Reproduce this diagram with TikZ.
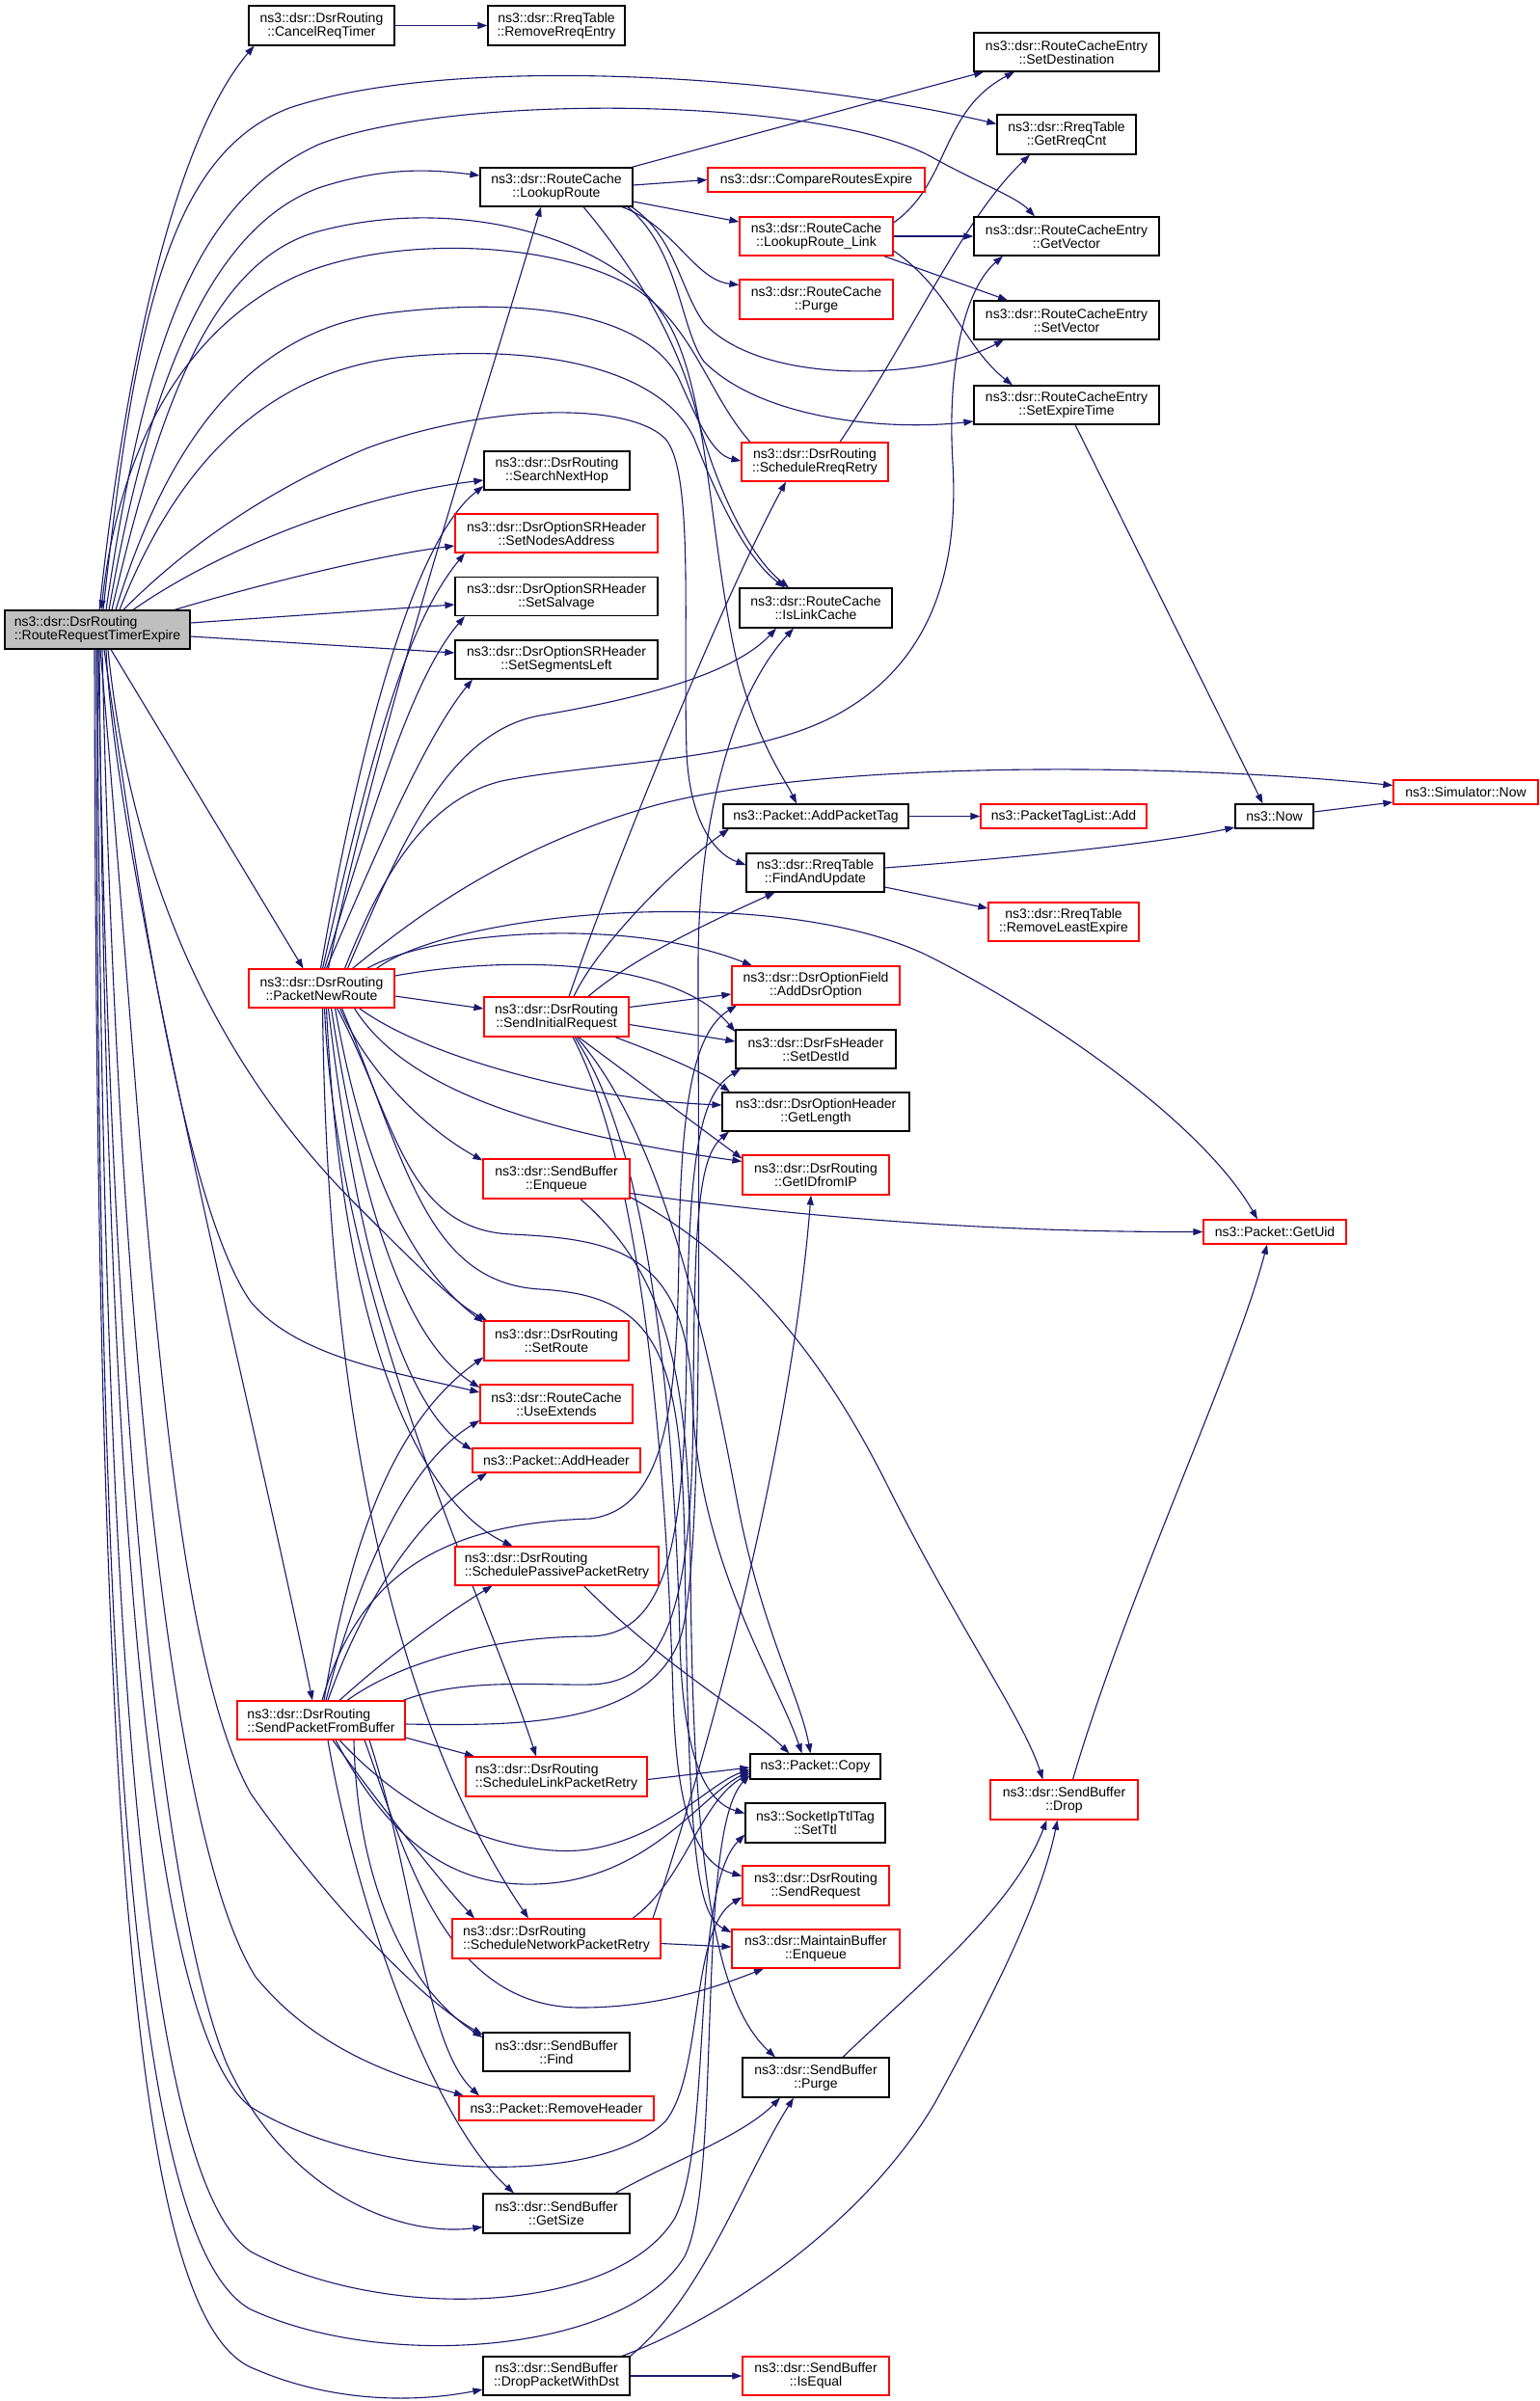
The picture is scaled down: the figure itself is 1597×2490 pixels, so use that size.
\documentclass[tikz,border=0pt]{standalone}
\usepackage{fontspec}
\setmainfont{Liberation Sans}
\usetikzlibrary{arrows.meta}
\pgfdeclarelayer{bg}
\pgfsetlayers{bg,main}
\definecolor{edgec}{HTML}{191970}
\definecolor{rootfill}{HTML}{BFBFBF}
\definecolor{redb}{HTML}{FF0000}
\tikzset{
  nb/.style={draw=black, fill=white, line width=1.2bp, inner sep=0pt, align=center, text=black,
             font=\fontsize{14bp}{14bp}\selectfont},
  nr/.style={nb, draw=redb},
  ar/.style={draw=edgec, line width=1.1bp, -{Triangle[length=10bp,width=7bp]}},
}
\begin{document}
\begin{tikzpicture}[x=1bp,y=-1bp]
\useasboundingbox (0,0) rectangle (1597,2490);
% ---------------- nodes ----------------
\node[nb,fill=rootfill,align=left,minimum width=192bp,minimum height=40bp] (root) at (101,653) {ns3::dsr::DsrRouting\\::RouteRequestTimerExpire};
\node[nb,minimum width=151bp,minimum height=41bp] (cancel) at (333.5,26.5) {ns3::dsr::DsrRouting\\::CancelReqTimer};
\node[nb,minimum width=142bp,minimum height=41bp] (rmrreq) at (577,26.5) {ns3::dsr::RreqTable\\::RemoveRreqEntry};
\node[nb,minimum width=192bp,minimum height=40bp] (setdest) at (1106,54) {ns3::dsr::RouteCacheEntry\\::SetDestination};
\node[nb,minimum width=144bp,minimum height=41bp] (getrreqcnt) at (1106,139.5) {ns3::dsr::RreqTable\\::GetRreqCnt};
\node[nb,minimum width=158bp,minimum height=40bp] (lookup) at (577,194) {ns3::dsr::RouteCache\\::LookupRoute};
\node[nr,minimum width=225bp,minimum height=25bp] (compare) at (846.5,186.5) {ns3::dsr::CompareRoutesExpire};
\node[nr,minimum width=159bp,minimum height=40bp] (lookuplink) at (846.5,245) {ns3::dsr::RouteCache\\::LookupRoute\_Link};
\node[nb,minimum width=192bp,minimum height=40bp] (getvector) at (1106,245) {ns3::dsr::RouteCacheEntry\\::GetVector};
\node[nr,minimum width=159bp,minimum height=41bp] (rcpurge) at (846.5,310.5) {ns3::dsr::RouteCache\\::Purge};
\node[nb,minimum width=192bp,minimum height=40bp] (setvector) at (1106,332) {ns3::dsr::RouteCacheEntry\\::SetVector};
\node[nb,minimum width=192bp,minimum height=40bp] (setexpire) at (1106,420) {ns3::dsr::RouteCacheEntry\\::SetExpireTime};
\node[nr,minimum width=152bp,minimum height=40bp] (srr) at (845,479) {ns3::dsr::DsrRouting\\::ScheduleRreqRetry};
\node[nb,minimum width=151bp,minimum height=40bp] (searchnext) at (577.5,488) {ns3::dsr::DsrRouting\\::SearchNextHop};
\node[nr,minimum width=210bp,minimum height=40bp] (setnodes) at (577,553) {ns3::dsr::DsrOptionSRHeader\\::SetNodesAddress};
\node[nb,minimum width=210bp,minimum height=40bp] (setsalvage) at (577,618.5) {ns3::dsr::DsrOptionSRHeader\\::SetSalvage};
\node[nb,minimum width=210bp,minimum height=40bp] (setseg) at (577,684) {ns3::dsr::DsrOptionSRHeader\\::SetSegmentsLeft};
\node[nb,minimum width=158bp,minimum height=41bp] (islink) at (846,630.5) {ns3::dsr::RouteCache\\::IsLinkCache};
\node[nb,minimum width=192bp,minimum height=25bp] (addtag) at (846,846.5) {ns3::Packet::AddPacketTag};
\node[nr,minimum width=172bp,minimum height=25bp] (taglist) at (1103,846.5) {ns3::PacketTagList::Add};
\node[nb,minimum width=81bp,minimum height=25bp] (now) at (1321.5,846.5) {ns3::Now};
\node[nr,minimum width=150bp,minimum height=25bp] (simnow) at (1520,821.5) {ns3::Simulator::Now};
\node[nb,minimum width=143bp,minimum height=40bp] (findupd) at (845.5,905) {ns3::dsr::RreqTable\\::FindAndUpdate};
\node[nr,minimum width=156bp,minimum height=40bp] (rmleast) at (1103,956) {ns3::dsr::RreqTable\\::RemoveLeastExpire};
\node[nr,minimum width=151bp,minimum height=40bp] (pnr) at (333.5,1025) {ns3::dsr::DsrRouting\\::PacketNewRoute};
\node[nr,minimum width=174bp,minimum height=40bp] (adddsr) at (846,1022) {ns3::dsr::DsrOptionField\\::AddDsrOption};
\node[nr,minimum width=150bp,minimum height=41bp] (sir) at (577,1054.5) {ns3::dsr::DsrRouting\\::SendInitialRequest};
\node[nb,minimum width=166bp,minimum height=40bp] (setdestid) at (846,1088) {ns3::dsr::DsrFsHeader\\::SetDestId};
\node[nb,minimum width=194bp,minimum height=40bp] (getlen) at (846,1153) {ns3::dsr::DsrOptionHeader\\::GetLength};
\node[nr,minimum width=152bp,minimum height=41bp] (getid) at (846,1218.5) {ns3::dsr::DsrRouting\\::GetIDfromIP};
\node[nr,minimum width=152bp,minimum height=41bp] (sbenq) at (577,1222.5) {ns3::dsr::SendBuffer\\::Enqueue};
\node[nr,minimum width=148bp,minimum height=25bp] (getuid) at (1322,1277.5) {ns3::Packet::GetUid};
\node[nr,minimum width=150bp,minimum height=41bp] (setroute) at (577,1390.5) {ns3::dsr::DsrRouting\\::SetRoute};
\node[nr,minimum width=158bp,minimum height=40bp] (useext) at (577,1456) {ns3::dsr::RouteCache\\::UseExtends};
\node[nr,minimum width=174bp,minimum height=25bp] (addhdr) at (577,1514.5) {ns3::Packet::AddHeader};
\node[nr,align=left,minimum width=211bp,minimum height=40bp] (passive) at (577.5,1624) {ns3::dsr::DsrRouting\\::SchedulePassivePacketRetry};
\node[nr,align=left,minimum width=174bp,minimum height=40bp] (spfb) at (333,1784) {ns3::dsr::DsrRouting\\::SendPacketFromBuffer};
\node[nr,align=left,minimum width=188bp,minimum height=41bp] (linkretry) at (577,1842.5) {ns3::dsr::DsrRouting\\::ScheduleLinkPacketRetry};
\node[nb,minimum width=135bp,minimum height=26bp] (copy) at (845.5,1832) {ns3::Packet::Copy};
\node[nr,minimum width=153bp,minimum height=41bp] (drop) at (1103.5,1866.5) {ns3::dsr::SendBuffer\\::Drop};
\node[nb,minimum width=145bp,minimum height=41bp] (setttl) at (845.5,1890.5) {ns3::SocketIpTtlTag\\::SetTtl};
\node[nr,minimum width=152bp,minimum height=41bp] (sendreq) at (846,1955.5) {ns3::dsr::DsrRouting\\::SendRequest};
\node[nr,align=left,minimum width=216bp,minimum height=41bp] (netretry) at (577,2010.5) {ns3::dsr::DsrRouting\\::ScheduleNetworkPacketRetry};
\node[nr,minimum width=174bp,minimum height=40bp] (mbenq) at (846,2021) {ns3::dsr::MaintainBuffer\\::Enqueue};
\node[nb,minimum width=152bp,minimum height=40bp] (find) at (577,2128) {ns3::dsr::SendBuffer\\::Find};
\node[nb,minimum width=152bp,minimum height=41bp] (sbpurge) at (846,2154.5) {ns3::dsr::SendBuffer\\::Purge};
\node[nr,minimum width=202bp,minimum height=25bp] (rmhdr) at (577,2186.5) {ns3::Packet::RemoveHeader};
\node[nb,minimum width=152bp,minimum height=41bp] (getsize) at (577,2295.5) {ns3::dsr::SendBuffer\\::GetSize};
\node[nb,minimum width=152bp,minimum height=40bp] (dropdst) at (577,2464) {ns3::dsr::SendBuffer\\::DropPacketWithDst};
\node[nr,minimum width=152bp,minimum height=40bp] (isequal) at (846,2464) {ns3::dsr::SendBuffer\\::IsEqual};
% ---------------- edges ----------------
\begin{pgfonlayer}{bg}
\fill[white] (0,0) rectangle (1597,2490);
% root, upward
\draw[ar] ([xshift=2bp]root.north) .. controls (132,360) and (185,140) .. ([xshift=-70bp]cancel.south);
\draw[ar] ([xshift=6bp]root.north) .. controls (140,330) and (175,160) .. (300,112) .. controls (470,55) and (820,78) .. ([yshift=11bp]getrreqcnt.west);
\draw[ar] ([xshift=9bp]root.north) .. controls (150,360) and (200,210) .. (330,150) .. controls (470,95) and (860,100) .. (970,165) .. controls (1020,192) and (1055,205) .. ([xshift=-33bp]getvector.north);
\draw[ar] ([xshift=12bp]root.north) .. controls (150,420) and (210,240) .. (330,195) .. controls (400,172) and (450,176) .. ([yshift=12bp]lookup.west);
\draw[ar] ([xshift=15bp]root.north) .. controls (165,420) and (220,270) .. (330,240) .. controls (480,200) and (640,250) .. (690,330) .. controls (735,400) and (735,560) .. (765,690) .. controls (785,770) and (815,810) .. ([xshift=-20bp]addtag.north);
\draw[ar] ([xshift=-67bp]srr.north) .. controls (735,410) and (720,340) .. (660,300) .. controls (570,245) and (390,245) .. (300,290) .. controls (200,340) and (125,450) .. ([xshift=4bp]root.north);
\draw[ar] ([xshift=19bp]root.north) .. controls (170,470) and (250,345) .. (400,325) .. controls (560,305) and (675,330) .. (705,395) .. controls (725,440) and (740,472) .. ([yshift=1bp]srr.west);
\draw[ar] ([xshift=23bp]root.north) .. controls (180,490) and (270,385) .. (420,370) .. controls (580,355) and (690,390) .. (720,455) .. controls (745,520) and (775,580) .. ([xshift=-32bp]islink.north);
\draw[ar] ([xshift=27bp]root.north) .. controls (170,590) and (250,520) .. (380,465) .. controls (500,420) and (650,415) .. (690,455) .. controls (720,490) and (708,650) .. (712,780) .. controls (715,850) and (740,885) .. ([yshift=8bp]findupd.west);
\draw[ar] ([xshift=37bp]root.north) .. controls (220,575) and (360,515) .. ([yshift=-10bp]searchnext.west);
\draw[ar] ([xshift=80bp]root.north) .. controls (290,600) and (400,575) .. ([yshift=-13bp]setnodes.west);
\draw[ar] ([yshift=7bp]root.east) -- ([yshift=-8.5bp]setsalvage.west);
\draw[ar] ([yshift=-7bp]root.east) -- ([yshift=7bp]setseg.west);
\draw[ar] ([xshift=14bp]root.south) -- ([xshift=-19bp]pnr.north);
% root, downward
\draw[ar] ([xshift=9bp]root.south) .. controls (120,900) and (260,1450) .. ([xshift=-9bp]spfb.north);
\draw[ar] ([xshift=11bp]root.south) .. controls (140,950) and (250,1130) .. (370,1250) .. controls (430,1310) and (470,1350) .. ([xshift=-72bp]setroute.north);
\draw[ar] ([xshift=7bp]root.south) .. controls (140,900) and (190,1250) .. (260,1350) .. controls (310,1410) and (420,1425) .. ([yshift=12bp]useext.west);
\draw[ar] ([xshift=5bp]root.south) .. controls (120,1300) and (170,1900) .. (265,2050) .. controls (330,2130) and (420,2155) .. ([xshift=-96bp]rmhdr.north);
\draw[ar] ([xshift=3bp]root.south) .. controls (150,1200) and (170,1700) .. (260,1860) .. controls (330,1960) and (430,2070) .. ([yshift=18bp]find.west);
\draw[ar] ([xshift=1bp]root.south) .. controls (115,1500) and (170,1980) .. (235,2140) .. controls (300,2280) and (420,2320) .. ([yshift=-14bp]getsize.west);
\draw[ar] ([xshift=2bp]root.south) .. controls (110,1600) and (160,2110) .. (260,2185) .. controls (380,2260) and (620,2270) .. (690,2200) .. controls (730,2150) and (715,2000) .. ([yshift=-12bp]sendreq.west);
\draw[ar] ([xshift=0bp]root.south) .. controls (105,1700) and (150,2260) .. (260,2335) .. controls (400,2410) and (640,2400) .. (700,2300) .. controls (740,2220) and (715,1960) .. ([yshift=-12bp]setttl.west);
\draw[ar] ([xshift=-1bp]root.south) .. controls (100,1800) and (140,2330) .. (260,2395) .. controls (400,2460) and (650,2440) .. (710,2340) .. controls (750,2260) and (720,1900) .. ([yshift=-9bp]copy.west);
\draw[ar] ([xshift=-3bp]root.south) .. controls (100,1900) and (140,2400) .. (260,2455) .. controls (350,2495) and (440,2490) .. ([yshift=-14bp]dropdst.west);
% PacketNewRoute
\draw[ar] ([xshift=7bp]pnr.north) .. controls (390,760) and (500,420) .. ([xshift=-16bp]lookup.south);
\draw[ar] ([xshift=-1bp]pnr.north) .. controls (375,760) and (430,560) .. ([yshift=-16bp]searchnext.west);
\draw[ar] ([xshift=1bp]pnr.north) .. controls (385,780) and (420,650) .. ([xshift=-95bp]setnodes.south);
\draw[ar] ([xshift=3bp]pnr.north) .. controls (392,820) and (430,700) .. ([xshift=-95bp]setsalvage.south);
\draw[ar] ([xshift=5bp]pnr.north) .. controls (400,860) and (445,760) .. ([xshift=-87bp]setseg.south);
\draw[ar] ([xshift=24bp]pnr.north) .. controls (395,910) and (440,830) .. (520,810) .. controls (620,790) and (780,790) .. (870,740) .. controls (960,690) and (995,600) .. (988,480) .. controls (982,380) and (1000,300) .. ([xshift=-66bp]getvector.south);
\draw[ar] ([xshift=27bp]pnr.north) .. controls (410,890) and (460,760) .. (560,742) .. controls (660,725) and (760,700) .. ([xshift=-41bp]islink.south);
\draw[ar] ([xshift=32bp]pnr.north) .. controls (420,960) and (520,880) .. (680,835) .. controls (850,790) and (1200,790) .. ([yshift=7bp]simnow.west);
\draw[ar] ([xshift=47bp]pnr.north) .. controls (450,965) and (650,950) .. ([xshift=-66bp]adddsr.north);
\draw[ar] ([xshift=57bp]pnr.north) .. controls (470,945) and (800,915) .. (960,990) .. controls (1100,1060) and (1250,1170) .. ([xshift=-18bp]getuid.north);
\draw[ar] ([yshift=13bp]pnr.east) .. controls (530,990) and (700,995) .. ([yshift=18bp]setdestid.west);
\draw[ar] ([yshift=-8bp]pnr.east) -- ([yshift=8.5bp]sir.west);
\draw[ar] ([xshift=39bp]pnr.south) .. controls (440,1095) and (600,1140) .. ([yshift=7bp]getlen.west);
\draw[ar] ([xshift=34bp]pnr.south) .. controls (420,1130) and (560,1175) .. ([yshift=14bp]getid.west);
\draw[ar] ([xshift=19bp]pnr.south) .. controls (380,1110) and (440,1170) .. ([yshift=19bp]sbenq.west);
\draw[ar] ([xshift=14bp]pnr.south) .. controls (375,1200) and (420,1310) .. ([yshift=19bp]setroute.west);
\draw[ar] ([xshift=10bp]pnr.south) .. controls (375,1250) and (420,1390) .. ([yshift=17bp]useext.west);
\draw[ar] ([xshift=7bp]pnr.south) .. controls (370,1300) and (420,1460) .. ([yshift=11bp]addhdr.west);
\draw[ar] ([xshift=5bp]pnr.south) .. controls (355,1400) and (440,1560) .. ([xshift=-46bp]passive.north);
\draw[ar] ([xshift=3bp]pnr.south) .. controls (350,1350) and (500,1650) .. ([xshift=-21bp]linkretry.north);
\draw[ar] ([xshift=1bp]pnr.south) .. controls (340,1500) and (420,1800) .. ([xshift=-29bp]netretry.north);
\draw[ar] ([xshift=16bp]pnr.south) .. controls (410,1160) and (420,1275) .. (530,1280) .. controls (640,1285) and (712,1300) .. (718,1450) .. controls (724,1620) and (805,1740) .. ([xshift=-14bp]copy.north);
\draw[ar] ([xshift=21bp]pnr.south) .. controls (420,1200) and (440,1330) .. (560,1337) .. controls (680,1344) and (706,1400) .. (710,1600) .. controls (714,1900) and (720,1985) .. ([yshift=17bp]mbenq.west);
% SendInitialRequest
\draw[ar] ([xshift=13bp]sir.north) .. controls (650,860) and (760,600) .. ([xshift=-30bp]srr.south);
\draw[ar] ([xshift=18bp]sir.north) .. controls (620,980) and (700,900) .. ([xshift=-90bp]addtag.south);
\draw[ar] ([xshift=33bp]sir.north) .. controls (660,990) and (750,950) .. ([xshift=-42bp]findupd.south);
\draw[ar] ([yshift=10bp]sir.east) -- ([yshift=-9bp]adddsr.west);
\draw[ar] ([yshift=-8bp]sir.east) -- ([yshift=8bp]setdestid.west);
\draw[ar] ([xshift=61bp]sir.south) .. controls (690,1095) and (730,1112) .. ([xshift=-89bp]getlen.north);
\draw[ar] ([xshift=23bp]sir.south) .. controls (660,1120) and (720,1165) .. ([yshift=17bp]getid.west);
\draw[ar] ([xshift=21bp]sir.south) .. controls (690,1180) and (735,1400) .. (765,1560) .. controls (790,1690) and (830,1760) .. ([xshift=-5bp]copy.north);
\draw[ar] ([xshift=19bp]sir.south) .. controls (680,1200) and (700,1500) .. (705,1700) .. controls (708,1830) and (735,1870) .. ([yshift=10bp]setttl.west);
\draw[ar] ([xshift=17bp]sir.south) .. controls (670,1220) and (692,1550) .. (698,1760) .. controls (702,1900) and (730,1935) .. ([yshift=10bp]sendreq.west);
% SendBuffer::Enqueue
\draw[ar] ([yshift=-15bp]sbenq.east) .. controls (800,1258) and (1000,1278) .. (getuid.west);
\draw[ar] ([yshift=-19bp]sbenq.east) .. controls (780,1310) and (860,1420) .. (920,1540) .. controls (995,1690) and (1060,1780) .. ([xshift=-22bp]drop.north);
\draw[ar] ([xshift=25bp]sbenq.south) .. controls (690,1320) and (714,1420) .. (716,1620) .. controls (718,1900) and (735,2070) .. ([xshift=-42bp]sbpurge.north);
% retries
\draw[ar] ([xshift=28bp]passive.south) .. controls (690,1730) and (780,1780) .. ([xshift=-27bp]copy.north);
\draw[ar] ([yshift=-3bp]linkretry.east) -- ([yshift=-1bp]copy.west);
\draw[ar] ([xshift=79bp]netretry.north) .. controls (710,1950) and (725,1870) .. ([yshift=-7bp]copy.west);
\draw[ar] ([yshift=-5bp]netretry.east) -- ([yshift=2bp]mbenq.west);
\draw[ar] ([xshift=100bp]netretry.north) .. controls (740,1800) and (820,1500) .. ([xshift=-5bp]getid.south);
% SendPacketFromBuffer
\draw[ar] ([xshift=3bp]spfb.north) .. controls (360,1620) and (400,1480) .. ([yshift=-17bp]setroute.west);
\draw[ar] ([xshift=5bp]spfb.north) .. controls (370,1640) and (420,1520) .. ([yshift=-17bp]useext.west);
\draw[ar] ([xshift=7bp]spfb.north) .. controls (380,1650) and (440,1570) .. ([xshift=-72bp]addhdr.south);
\draw[ar] ([xshift=19bp]spfb.north) .. controls (400,1720) and (460,1675) .. ([xshift=-67bp]passive.south);
\draw[ar] ([xshift=1bp]spfb.north) .. controls (370,1640) and (450,1580) .. (612,1575) .. controls (690,1565) and (702,1460) .. (704,1300) .. controls (706,1140) and (720,1070) .. ([xshift=-82bp]adddsr.south);
\draw[ar] ([xshift=27bp]spfb.north) .. controls (420,1720) and (520,1697) .. (612,1697) .. controls (692,1695) and (710,1600) .. (712,1400) .. controls (714,1200) and (725,1135) .. ([xshift=-78bp]setdestid.south);
\draw[ar] ([xshift=85bp]spfb.north) .. controls (480,1740) and (560,1748) .. (612,1747) .. controls (695,1745) and (718,1660) .. (719,1450) .. controls (720,1260) and (725,1200) .. ([xshift=-90bp]getlen.south);
\draw[ar] ([yshift=-4bp]spfb.east) .. controls (540,1790) and (670,1790) .. (705,1700) .. controls (730,1630) and (724,1250) .. (724,1000) .. controls (724,850) and (760,720) .. ([xshift=-23bp]islink.south);
\draw[ar] ([yshift=-18bp]spfb.east) -- ([xshift=-85bp]linkretry.north);
\draw[ar] ([xshift=19bp]spfb.south) .. controls (450,1910) and (560,1925) .. (610,1918) .. controls (690,1905) and (735,1850) .. ([yshift=-3bp]copy.west);
\draw[ar] ([xshift=15bp]spfb.south) .. controls (420,1940) and (500,1962) .. (580,1952) .. controls (680,1938) and (730,1860) .. ([yshift=-5bp]copy.west);
\draw[ar] ([xshift=12bp]spfb.south) .. controls (400,1880) and (460,1955) .. ([xshift=-85bp]netretry.north);
\draw[ar] ([xshift=45bp]spfb.south) .. controls (420,1920) and (460,2082) .. (602,2082) .. controls (680,2082) and (740,2062) .. ([xshift=-54bp]mbenq.south);
\draw[ar] ([xshift=34bp]spfb.south) .. controls (370,1950) and (420,2060) .. ([yshift=15bp]find.west);
\draw[ar] ([xshift=50bp]spfb.south) .. controls (430,1950) and (440,2120) .. ([xshift=-80bp]rmhdr.north);
\draw[ar] ([xshift=7bp]spfb.south) .. controls (370,1980) and (450,2200) .. ([xshift=-44bp]getsize.north);
% top area
\draw[ar] (cancel.east) -- (rmrreq.west);
\draw[ar] ([xshift=78bp]lookup.north) -- ([xshift=-86bp]setdest.south);
\draw[ar] ([yshift=2bp]lookup.east) -- (compare.west);
\draw[ar] ([yshift=-15bp]lookup.east) -- ([yshift=15bp]lookuplink.west);
\draw[ar] ([xshift=68bp]lookup.south) .. controls (700,235) and (720,290) .. ([yshift=15bp]rcpurge.west);
\draw[ar] ([xshift=78bp]lookup.south) .. controls (700,245) and (705,300) .. (730,335) .. controls (790,400) and (960,395) .. ([xshift=-65bp]setvector.south);
\draw[ar] ([xshift=74bp]lookup.south) .. controls (705,260) and (705,340) .. (730,375) .. controls (790,435) and (920,447) .. ([yshift=-17bp]setexpire.west);
\draw[ar] ([xshift=28bp]lookup.south) .. controls (660,280) and (700,350) .. (720,420) .. controls (740,500) and (775,575) .. ([xshift=-28bp]islink.north);
\draw[ar] ([yshift=14bp]lookuplink.east) .. controls (985,190) and (975,115) .. ([xshift=-54bp]setdest.south);
\draw[ar] (lookuplink.east) -- (getvector.west);
\draw[ar] ([xshift=70bp]lookuplink.south) -- ([xshift=-61bp]setvector.north);
\draw[ar] ([yshift=-15bp]lookuplink.east) .. controls (985,300) and (1000,360) .. ([xshift=-56bp]setexpire.north);
\draw[ar] ([xshift=26bp]srr.north) .. controls (950,340) and (1000,225) .. ([xshift=-38bp]getrreqcnt.south);
\draw[ar] ([xshift=9bp]setexpire.south) -- ([xshift=-12bp]now.north);
\draw[ar] (addtag.east) -- (taglist.west);
\draw[ar] ([yshift=4.5bp]now.east) -- ([yshift=-10.5bp]simnow.west);
\draw[ar] ([yshift=5bp]findupd.east) .. controls (1050,890) and (1200,875) .. ([yshift=-11.5bp]now.west);
\draw[ar] ([yshift=-15bp]findupd.east) -- ([yshift=14bp]rmleast.west);
% bottom right
\draw[ar] ([xshift=9bp]drop.north) .. controls (1170,1650) and (1280,1420) .. ([xshift=-8bp]getuid.south);
\draw[ar] ([xshift=28bp]sbpurge.north) .. controls (950,2060) and (1050,1980) .. ([xshift=-18bp]drop.south);
\draw[ar] ([xshift=68bp]dropdst.north) .. controls (760,2400) and (900,2300) .. (970,2180) .. controls (1030,2070) and (1080,1970) .. ([xshift=-7bp]drop.south);
\draw[ar] (dropdst.north east) .. controls (730,2380) and (770,2260) .. ([xshift=-23bp]sbpurge.south);
\draw[ar] ([xshift=61bp]getsize.north) .. controls (700,2240) and (770,2215) .. ([xshift=-37bp]sbpurge.south);
\draw[ar] (dropdst.east) -- (isequal.west);
\end{pgfonlayer}
\end{tikzpicture}
\end{document}
